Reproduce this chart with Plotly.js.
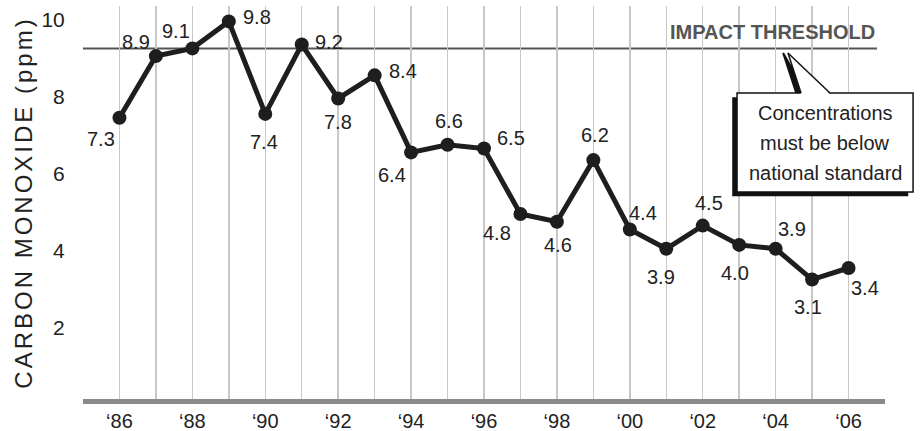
<!DOCTYPE html>
<html><head><meta charset="utf-8">
<script src="https://cdn.plot.ly/plotly-3.0.1.min.js"></script>
<style>
html,body{margin:0;padding:0;background:#fff;}
#chart{width:922px;height:431px;}
.ytitle{letter-spacing:3px;}
</style></head>
<body><div id="chart"></div>
<script>
const years = [1986,1987,1988,1989,1990,1991,1992,1993,1994,1995,1996,1997,1998,1999,2000,2001,2002,2003,2004,2005,2006];
const coValues = [7.3,8.9,9.1,9.8,7.4,9.2,7.8,8.4,6.4,6.6,6.5,4.8,4.6,6.2,4.4,3.9,4.5,4.0,3.9,3.1,3.4];
const tickYears = years;
const tickLabels = ['\u201886','','\u201888','','\u201890','','\u201892','','\u201894','','\u201896','','\u201898','','\u201800','','\u201802','','\u201804','','\u201806'];
const threshold = 9.1;
const yTicks = [2,4,6,8,10];
// label offsets from each point, in pixels (style)
const labelDx = [-18,-20,-16,28,-1,27,0,28,-19,1,27,-23,1,2,13,-5,6,-4,16,-4,16];
const labelDy = [21,-14,-17,-4,28,-3,24,-4,23,-24,-11,19,23,-25,-16,28,-23,28,-20,27,20];

const FONT = '"Liberation Sans",Arial,sans-serif';

const trace = {
  x: years, y: coValues, type:'scatter', mode:'lines+markers',
  line:{color:'#1e1e1e',width:5},
  marker:{color:'#1e1e1e',size:14},
  cliponaxis:false, hoverinfo:'skip'
};

// callout geometry (paper coords)
const bx0=0.8155,bx1=1.035,by0=0.5267,by1=0.7786;
const sx=-0.006, sy=-0.011;
const ax=0.879, ay=0.8804, tl=0.8953, tr=0.9314;
const lineStep = 30/393;
const calloutLines = ['Concentrations','must be below','national standard'];

const annotations = [
  {xref:'paper',x:0.99,xanchor:'right',yref:'y',y:threshold,yanchor:'bottom',yshift:3,showarrow:false,
   text:'<b>IMPACT THRESHOLD</b>',font:{family:FONT,size:20,color:'#555'}}
];
calloutLines.forEach((t,i)=>annotations.push({xref:'paper',x:(bx0+bx1)/2,xanchor:'center',yref:'paper',
  y:(by0+by1)/2+(1-i)*lineStep,yanchor:'middle',showarrow:false,text:t,font:{family:FONT,size:20,color:'#222'}}));
years.forEach((yr,i)=>annotations.push({x:yr,y:coValues[i],xref:'x',yref:'y',showarrow:false,
  text:coValues[i].toFixed(1),xshift:labelDx[i],yshift:-labelDy[i],xanchor:'center',yanchor:'middle',
  font:{family:FONT,size:20,color:'#222'}}));

const layout = {
  width:922,height:431,
  margin:{l:83,r:37,t:6,b:32},
  paper_bgcolor:'#fff',plot_bgcolor:'#fff',
  showlegend:false,
  xaxis:{range:[1985,2007],tickvals:tickYears,ticktext:tickLabels,
    showgrid:true,gridcolor:'#c8c8c8',gridwidth:1.5,zeroline:false,
    showline:true,linecolor:'#8a8a8a',linewidth:5,
    ticks:'',
    tickfont:{family:FONT,size:20,color:'#222'}},
  yaxis:{range:[0,10.2],tickvals:yTicks,showgrid:false,zeroline:false,showline:false,
    ticks:'outside',ticklen:13,tickcolor:'rgba(0,0,0,0)',ticklabelshift:6,
    tickfont:{family:FONT,size:21,color:'#222'},
    title:{text:'CARBON MONOXIDE (ppm)',standoff:2,font:{family:FONT,size:24,color:'#222'}}},
  shapes:[
    {type:'line',xref:'paper',x0:0,x1:0.99,yref:'y',y0:threshold,y1:threshold,line:{color:'#555',width:2},layer:'below'},
    {type:'rect',xref:'paper',yref:'paper',x0:bx0+sx,x1:bx1+sx,y0:by0+sy,y1:by1+sy,fillcolor:'#111',line:{width:0}},
    {type:'path',xref:'paper',yref:'paper',path:`M ${ax+sx} ${ay} L ${tl+sx} ${by1} L ${tl+0.006} ${by1} Z`,fillcolor:'#111',line:{color:'#111',width:2}},
    {type:'rect',xref:'paper',yref:'paper',x0:bx0,x1:bx1,y0:by0,y1:by1,fillcolor:'#fff',line:{color:'#111',width:1.5}},
    {type:'path',xref:'paper',yref:'paper',path:`M ${ax} ${ay} L ${tl} ${by1-0.003} L ${tr} ${by1-0.003} Z`,fillcolor:'#fff',line:{width:0}},
    {type:'line',xref:'paper',yref:'paper',x0:ax,y0:ay,x1:tl,y1:by1,line:{color:'#111',width:1.5}},
    {type:'line',xref:'paper',yref:'paper',x0:ax,y0:ay,x1:tr,y1:by1,line:{color:'#111',width:1.5}}
  ],
  annotations:annotations
};
Plotly.newPlot('chart',[trace],layout,{staticPlot:true,displayModeBar:false});
</script></body></html>
